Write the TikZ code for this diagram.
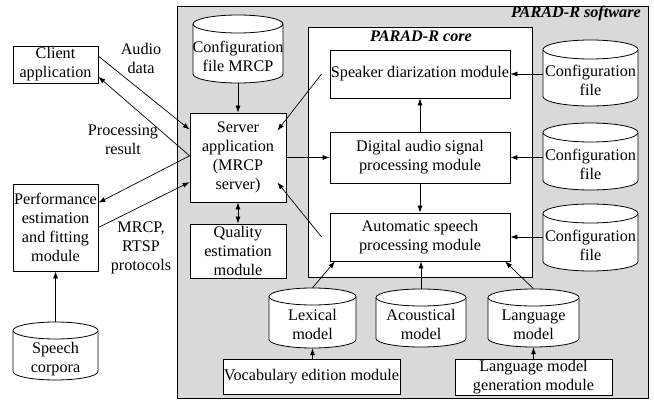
\documentclass[tikz,border=0pt]{standalone}
\usepackage{fontspec}
\setmainfont{Liberation Serif}
\usetikzlibrary{arrows.meta}
\newcommand\fs{\fontsize{16.2}{19}\selectfont}
\tikzset{
  box/.style={draw, fill=white, line width=0.8pt, align=center, inner sep=1pt, font=\fs},
  cylline/.style={draw, fill=white, line width=0.8pt},
  cylnode/.style={inner sep=0pt, font=\fs},
  frame/.style={draw, line width=0.8pt, inner sep=0pt},
  ttl/.style={font=\fs\bfseries\itshape, inner sep=0pt},
  lbl/.style={align=center, font=\fs, inner sep=0pt},
  arr/.style={-{Latex[length=7pt,width=5pt]}, line width=0.7pt},
  dbl/.style={{Latex[length=7pt,width=5pt]}-{Latex[length=7pt,width=5pt]}, line width=0.7pt},
}
% name, x1, ytop, x2, ybottom, ry, text
\newcommand\cyl[7]{%
  \pgfmathsetmacro\cylcx{(#2+#4)/2}%
  \pgfmathsetmacro\cylrx{(#4-#2)/2}%
  \pgfmathsetmacro\cylcy{(#3+#5)/2}%
  \filldraw[cylline] (#2,#3+#6) -- (#2,#5-#6)
     arc[start angle=180,end angle=0,x radius=\cylrx,y radius=#6] -- (#4,#3+#6)
     arc[start angle=0,end angle=-180,x radius=\cylrx,y radius=#6] -- cycle;
  \draw[cylline] (#2,#3+#6) arc[start angle=180,end angle=0,x radius=\cylrx,y radius=#6];
  \node[cylnode, minimum width={#4-#2}, minimum height={#5-#3}] (#1) at (\cylcx,\cylcy)
     {\raisebox{-#6pt}[\height][\depth]{\begin{tabular}{@{}c@{}}#7\end{tabular}}};
}
\begin{document}
\begin{tikzpicture}[x=1pt,y=-1pt]
\useasboundingbox (0,0) rectangle (654,401);

% containers
\node[frame, fill=gray!30, minimum width=471, minimum height=392] (sw) at (412.5,202) {};
\node[ttl, anchor=east] (swtitle) at (641,14) {PARAD-R software};
\node[frame, fill=white, minimum width=224, minimum height=250] (core) at (420,152) {};
\node[ttl] (coretitle) at (421,36) {PARAD-R core};

% boxes
\node[box, minimum width=85, minimum height=37] (client) at (55.5,64.5) {Client\\application};
\node[box, minimum width=85, minimum height=87] (perf) at (55.5,227.5) {Performance\\estimation\\and fitting\\module};
\node[box, minimum width=96, minimum height=89] (server) at (238,157.5) {Server\\application\\(MRCP\\server)};
\node[box, minimum width=96, minimum height=54] (quality) at (238,251) {Quality\\estimation\\module};
\node[box, minimum width=180, minimum height=48] (speaker) at (420,74) {Speaker diarization module};
\node[box, minimum width=180, minimum height=51] (digital) at (420,157.5) {Digital audio signal\\processing module};
\node[box, minimum width=180, minimum height=48] (asp) at (420,237) {Automatic speech\\processing module};
\node[box, minimum width=177, minimum height=35] (vocab) at (311.5,376.5) {Vocabulary edition module};
\node[box, minimum width=157, minimum height=36] (lmgen) at (533.5,377) {Language model\\generation module};

% cylinders
\cyl{cfgm}{193}{15}{283}{83}{9}{Configuration\\file MRCP}
\cyl{cfga}{543}{40}{638}{106}{9.5}{Configuration\\file}
\cyl{cfgb}{543}{123}{638}{190}{9.5}{Configuration\\file}
\cyl{cfgc}{543}{204}{638}{271}{9.5}{Configuration\\file}
\cyl{lex}{269}{288}{356}{348}{8.5}{Lexical\\model}
\cyl{aco}{376}{289}{466}{347}{8.5}{Acoustical\\model}
\cyl{lang}{488}{289}{579}{347}{8.5}{Language\\model}
\cyl{corp}{13}{322}{98}{380}{8.5}{Speech\\corpora}

% labels
\node[lbl] (audio) at (141,58) {Audio\\data};
\node[lbl] (proc) at (123,140) {Processing\\result};
\node[lbl] (mrcp) at (141,248) {MRCP,\\RTSP\\protocols};

% connectors
\draw[arr] (cfgm.south) -- (server.north);
\draw[arr] (client.11) -- (server.150);
\draw[arr] (server.178) -- (client.-16);
\draw[arr] (server.178) -- (perf.30);
\draw[arr] (perf.east) -- (server.207);
\draw[dbl] (server.south) -- (quality.north);
\draw[arr] (corp.north) -- (perf.south);
\draw[arr] (server.east) -- (digital.west);
\draw[arr] ([xshift=-8pt]speaker.west) -- ([xshift=-9pt,yshift=-18pt]server.north east);
\draw[arr] ([xshift=-8pt]asp.west) -- ([xshift=-9pt,yshift=20pt]server.south east);
\draw[arr] (digital.north) -- (speaker.south);
\draw[arr] (digital.south) -- (asp.north);
\draw[arr] (cfga.west |- speaker.east) -- (speaker.east);
\draw[arr] (cfgb.west |- digital.east) -- (digital.east);
\draw[arr] (cfgc.west |- asp.east) -- (asp.east);
\draw[arr] (lex.north) -- (asp.196.7);
\draw[arr] (aco.north) -- (aco.north |- asp.south);
\draw[arr] (lang.north) -- (asp.-16.3);
\draw[arr] (lex.south |- vocab.north) -- (lex.south);
\draw[arr] (lmgen.north) -- (lang.south);
\end{tikzpicture}
\end{document}
